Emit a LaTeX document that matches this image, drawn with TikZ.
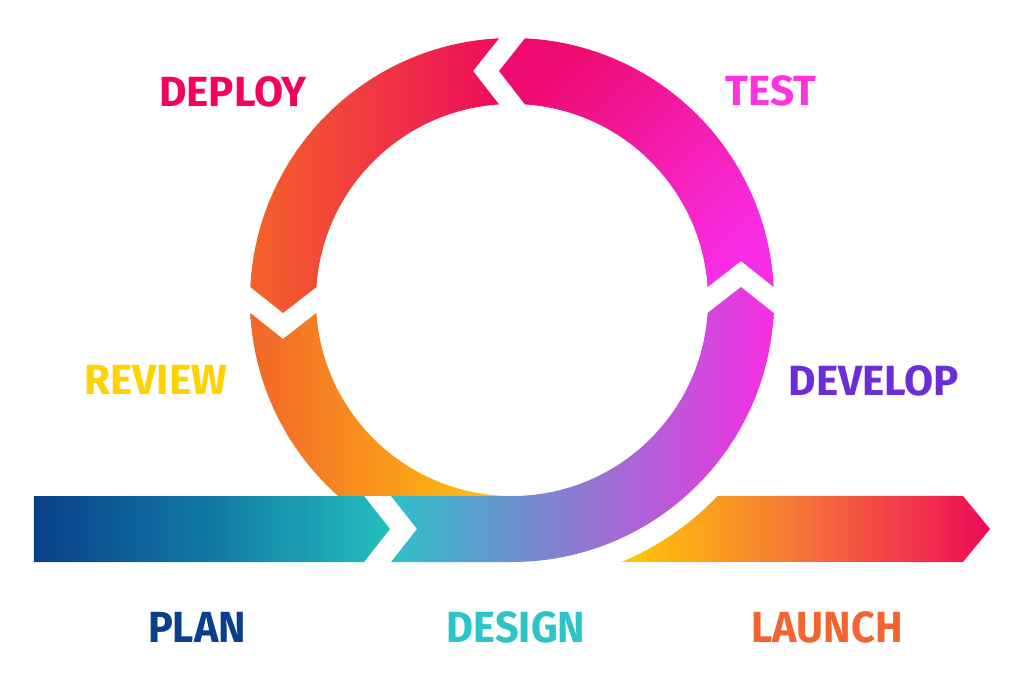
\documentclass[tikz,border=0pt]{standalone}
\usepackage{fontspec}
\usepackage{graphicx}
\setmainfont{Fira Sans}

\definecolor{plandark}{HTML}{08408B}
\definecolor{planmid}{HTML}{127AA3}
\definecolor{planteal}{HTML}{24BFBF}
\definecolor{designcyan}{HTML}{2EC0C8}
\definecolor{designpurple}{HTML}{9078D2}
\definecolor{designmagenta}{HTML}{F52EE2}
\definecolor{testmagenta}{HTML}{F82DE3}
\definecolor{testpink}{HTML}{EE0A6E}
\definecolor{deployred}{HTML}{EE0D5C}
\definecolor{deployorange}{HTML}{F36228}
\definecolor{revieworange}{HTML}{F2662A}
\definecolor{reviewyellow}{HTML}{FFC80C}
\definecolor{launchyellow}{HTML}{FFC905}
\definecolor{launchorange}{HTML}{F5713A}
\definecolor{launchred}{HTML}{EE0A57}

\definecolor{txtdeploy}{HTML}{F2045C}
\definecolor{txttest}{HTML}{FF33DD}
\definecolor{txtreview}{HTML}{FFD200}
\definecolor{txtdevelop}{HTML}{6A2DD8}
\definecolor{txtplan}{HTML}{0A408B}
\definecolor{txtdesign}{HTML}{2BC4C8}
\definecolor{txtlaunch}{HTML}{F26430}

\begin{document}
\begin{tikzpicture}[x=0.025cm, y=0.025cm,
    stage/.style={font=\fontsize{30}{36}\selectfont\bfseries, inner sep=0pt},
    flow/.style={font=\fontsize{31}{36}\selectfont\bfseries, inner sep=0pt}]

  \useasboundingbox (-512,-382) rectangle (512,300);

  % bars along the bottom
  \shade[left color=plandark, right color=planteal, middle color=planmid]
    (-478,-196) -- (-148,-196) -- (-122,-229) -- (-148,-262) -- (-478,-262) -- cycle;

  \shade[left color=launchyellow, right color=launchred, middle color=launchorange]
    (-67.3:284) arc[start angle=-67.3, end angle=-43.64, radius=284]
    -- (451,-196) -- (478,-229) -- (451,-262) -- cycle;

  % ring segments, cut by the chevrons at 0, 90 and 180
  \shade[left color=revieworange, right color=reviewyellow]
    (182.84:262) arc[start angle=182.84, end angle=228.4, radius=262]
    -- (0,-196) arc[start angle=270, end angle=183.79, radius=196]
    -- (189.66:232.3) -- cycle;

  \shade[left color=designcyan, right color=designmagenta, middle color=designpurple]
    (-121,-196) -- (-95,-229) -- (-121,-262) -- (0,-262)
    arc[start angle=-90, end angle=-2.84, radius=262]
    -- (3.25:229.4) -- (-3.79:196)
    arc[start angle=-3.79, end angle=-90, radius=196] -- cycle;

  \shade[top color=testpink, bottom color=testmagenta, shading angle=45]
    (2.84:262) arc[start angle=2.84, end angle=87.16, radius=262]
    -- (93.25:229.4) -- (86.21:196)
    arc[start angle=86.21, end angle=3.79, radius=196]
    -- (9.66:232.3) -- cycle;

  \shade[left color=deployorange, right color=deployred]
    (92.84:262) arc[start angle=92.84, end angle=177.16, radius=262]
    -- (183.25:229.4) -- (176.21:196)
    arc[start angle=176.21, end angle=93.79, radius=196]
    -- (99.66:232.3) -- cycle;

  % labels
  \node[stage, text=txtdeploy] (deploy) at (-279,208) {DEPLOY};
  \node[stage, text=txttest] (test) at (259,209) {TEST};
  \node[stage, text=txtreview] (review) at (-356,-80) {REVIEW};
  \node[stage, text=txtdevelop] (develop) at (362,-81) {DEVELOP};

  \node[flow, text=txtplan] (plan) at (-315,-327) {\scalebox{0.95}[1]{PLAN}};
  \node[flow, text=txtdesign] (design) at (4,-327) {\scalebox{0.95}[1]{DESIGN}};
  \node[flow, text=txtlaunch] (launch) at (315,-327) {\scalebox{0.95}[1]{LAUNCH}};

\end{tikzpicture}
\end{document}
